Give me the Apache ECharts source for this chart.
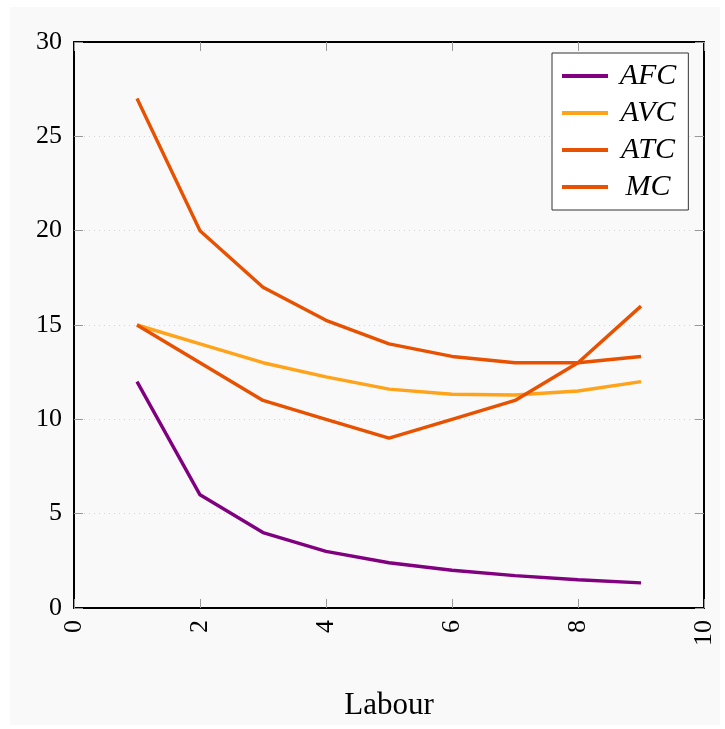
<!DOCTYPE html>
<html><head><meta charset="utf-8">
<script src="https://cdn.jsdelivr.net/npm/echarts@6/dist/echarts.min.js"></script>
<style>html,body{margin:0;padding:0;background:#fff}#c{width:725px;height:729px}</style>
</head><body><div id="c"></div>
<script>
const labour = [1, 2, 3, 4, 5, 6, 7, 8, 9];
const afc = [12, 6, 4, 3, 2.4, 2, 1.714, 1.5, 1.333];
const avc = [15, 14, 13, 12.25, 11.6, 11.333, 11.286, 11.5, 12];
const atc = [27, 20, 17, 15.25, 14, 13.333, 13, 13, 13.333];
const mc = [15, 13, 11, 10, 9, 10, 11, 13, 16];
const seriesNames = ['AFC', 'AVC', 'ATC', 'MC'];
const colors = ['#800080', '#FFA31A', '#E85100', '#E85100'];
const xLabel = 'Labour';

const chart = echarts.init(document.getElementById('c'));
const font = '"Liberation Serif", "DejaVu Serif", serif';
const pair = (ys) => labour.map((x, i) => [x, ys[i]]);
const vals = [afc, avc, atc, mc];
const tick = {show: true, inside: true, length: 9, lineStyle: {color: '#999', width: 1}};
const frame = {show: true, onZero: false, lineStyle: {color: '#000', width: 2}};
chart.setOption({
  animation: false,
  graphic: [{type: 'rect', z: -10, shape: {x: 10, y: 7, width: 710, height: 718}, style: {fill: '#f9f9f9'}}],
  grid: {left: 74, top: 42, width: 630, height: 566, show: false, containLabel: false, outerBoundsMode: 'none'},
  legend: {
    left: 552, top: 53, orient: 'vertical',
    backgroundColor: '#fff', borderColor: '#333', borderWidth: 1,
    padding: [8, 12, 8, 10], itemGap: 7,
    icon: 'rect', itemWidth: 46, itemHeight: 4,
    formatter: '{a|{name}}',
    textStyle: {
      fontFamily: font, fontStyle: 'italic', fontSize: 30, color: '#000',
      rich: {a: {fontFamily: font, fontStyle: 'italic', fontSize: 30, color: '#000', width: 70, align: 'center'}}
    },
    data: seriesNames
  },
  xAxis: [{
    type: 'value', min: 0, max: 10, interval: 2,
    name: xLabel, nameLocation: 'middle', nameGap: 82,
    nameTextStyle: {fontFamily: font, fontSize: 31, color: '#000'},
    axisLine: frame,
    axisTick: tick, splitLine: {show: false},
    axisLabel: {rotate: 90, fontFamily: font, fontSize: 26, color: '#000', margin: 12}
  }, {
    type: 'value', position: 'top', min: 0, max: 10, interval: 2,
    axisLine: frame, axisTick: tick, axisLabel: {show: false}, splitLine: {show: false}
  }],
  yAxis: [{
    type: 'value', min: 0, max: 30, interval: 5,
    axisLine: frame,
    axisTick: tick,
    splitLine: {show: true, lineStyle: {color: '#d4d4d4', type: [1, 4], width: 1}},
    axisLabel: {fontFamily: font, fontSize: 26, color: '#000', margin: 12}
  }, {
    type: 'value', position: 'right', min: 0, max: 30, interval: 5,
    axisLine: frame, axisTick: tick, axisLabel: {show: false}, splitLine: {show: false}
  }],
  series: seriesNames.map((n, i) => ({
    name: n, type: 'line', data: pair(vals[i]), showSymbol: false, symbol: 'none',
    lineStyle: {width: 3.4, color: colors[i]}, itemStyle: {color: colors[i]}
  }))
});
</script></body></html>
